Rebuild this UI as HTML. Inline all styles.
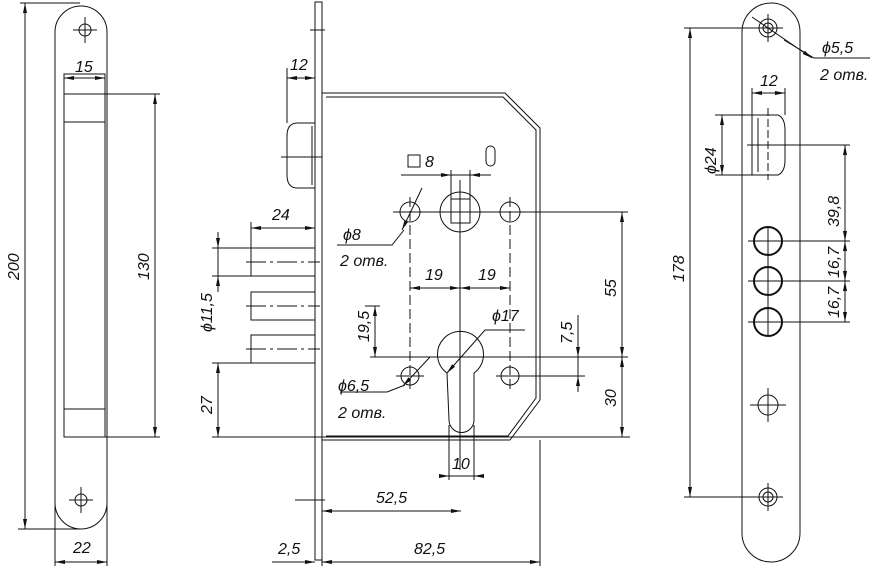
<!DOCTYPE html>
<html><head><meta charset="utf-8"><style>
html,body{margin:0;padding:0;background:#fff;width:879px;height:568px;overflow:hidden}
svg text{font-family:"Liberation Sans",sans-serif;font-style:italic;font-size:16px;fill:#111}
</style></head><body>
<svg width="879" height="568" viewBox="0 0 879 568" xmlns="http://www.w3.org/2000/svg">
<defs>
<marker id="a" viewBox="0 0 10 4" refX="10" refY="2" markerWidth="10" markerHeight="4" orient="auto-start-reverse" markerUnits="userSpaceOnUse"><path d="M0,0L10,2L0,4z" fill="#111"/></marker>
</defs>
<g stroke="#111" stroke-width="1" fill="none">
<!-- LEFT PLATE -->
<path d="M55,32 A26,26 0 0 1 107,32 L107,503 A26,26 0 0 1 55,503 Z"/>
<rect x="64" y="74" width="41" height="363"/>
<line x1="64" y1="122" x2="105" y2="122"/>
<line x1="64" y1="409" x2="105" y2="409"/>
<circle cx="85" cy="30" r="6"/><line x1="73" y1="30" x2="97" y2="30"/><line x1="85" y1="17" x2="85" y2="43"/>
<circle cx="81" cy="500" r="6"/><line x1="69" y1="500" x2="93" y2="500"/><line x1="81" y1="487" x2="81" y2="513"/>
<line x1="25" y1="3" x2="25" y2="529" marker-start="url(#a)" marker-end="url(#a)"/>
<line x1="20" y1="3" x2="80" y2="3"/><line x1="18" y1="529" x2="80" y2="529"/>
<line x1="64" y1="78" x2="105" y2="78" marker-start="url(#a)" marker-end="url(#a)"/>
<line x1="64" y1="94" x2="160" y2="94"/><line x1="105" y1="437" x2="160" y2="437"/>
<line x1="155" y1="94" x2="155" y2="437" marker-start="url(#a)" marker-end="url(#a)"/>
<line x1="55" y1="505" x2="55" y2="566"/><line x1="107" y1="505" x2="107" y2="566"/>
<line x1="55" y1="562" x2="107" y2="562" marker-start="url(#a)" marker-end="url(#a)"/>
<!-- MIDDLE -->
<rect x="315" y="2" width="7" height="558"/>
<line x1="310" y1="30" x2="325" y2="30"/><line x1="295" y1="500" x2="325" y2="500"/>
<path d="M322,93 L505,93 L540,128 L540,400 L510,440 L322,440"/>
<path d="M326,97 L503,97 L536,130 L536,398 L508,436 L326,436"/>
<path d="M315,123 L296,123 Q287,124 287,136 L287,175 Q287,187 296,188 L315,188"/>
<line x1="312" y1="126" x2="312" y2="185"/>
<line x1="281" y1="157" x2="322" y2="157"/>
<rect x="251" y="248" width="64" height="28"/><rect x="251" y="292" width="64" height="28"/><rect x="251" y="335" width="64" height="28"/>
<g stroke-dasharray="20,4,3,4"><line x1="246" y1="262" x2="320" y2="262"/><line x1="246" y1="306" x2="320" y2="306"/><line x1="246" y1="349" x2="320" y2="349"/></g>
<!-- holes -->
<circle cx="410" cy="212" r="10"/><circle cx="510" cy="212" r="10"/>
<circle cx="460" cy="212" r="20"/><rect x="451" y="199" width="19" height="24"/>
<line x1="393" y1="212" x2="628" y2="212"/>
<line x1="460" y1="180" x2="460" y2="470"/>
<g stroke-dasharray="10,4"><line x1="410" y1="197" x2="410" y2="390"/><line x1="510" y1="197" x2="510" y2="390"/></g>
<rect x="486" y="146" width="9" height="20" rx="4.5"/>
<path d="M447,373 A23,23 0 1 1 474,373 L474,420 A12.5,12.5 0 0 1 449,420 Z"/>
<circle cx="410" cy="376" r="9"/><circle cx="510" cy="376" r="9"/>
<line x1="396" y1="376" x2="424" y2="376"/><line x1="496" y1="376" x2="585" y2="376"/>
<!-- dims mid -->
<line x1="287" y1="68" x2="287" y2="123"/>
<line x1="287" y1="78" x2="315" y2="78" marker-start="url(#a)" marker-end="url(#a)"/>
<line x1="251" y1="222" x2="251" y2="248"/>
<line x1="251" y1="228" x2="315" y2="228" marker-start="url(#a)" marker-end="url(#a)"/>
<line x1="212" y1="248" x2="251" y2="248"/><line x1="212" y1="276" x2="251" y2="276"/>
<line x1="218" y1="232" x2="218" y2="248" marker-end="url(#a)"/><line x1="218" y1="292" x2="218" y2="276" marker-end="url(#a)"/><line x1="218" y1="248" x2="218" y2="276"/>
<line x1="212" y1="363" x2="251" y2="363"/><line x1="212" y1="437" x2="630" y2="437"/>
<line x1="218" y1="363" x2="218" y2="437" marker-start="url(#a)" marker-end="url(#a)"/>
<line x1="365" y1="306" x2="380" y2="306"/><line x1="370" y1="357" x2="628" y2="357"/>
<line x1="375" y1="306" x2="375" y2="357" marker-start="url(#a)" marker-end="url(#a)"/>
<line x1="410" y1="288" x2="460" y2="288" marker-start="url(#a)" marker-end="url(#a)"/>
<line x1="460" y1="288" x2="510" y2="288" marker-start="url(#a)" marker-end="url(#a)"/>
<line x1="622" y1="212" x2="622" y2="357" marker-start="url(#a)" marker-end="url(#a)"/>
<line x1="622" y1="357" x2="622" y2="437" marker-start="url(#a)" marker-end="url(#a)"/>
<line x1="578" y1="315" x2="578" y2="357" marker-end="url(#a)"/><line x1="578" y1="392" x2="578" y2="376" marker-end="url(#a)"/><line x1="578" y1="357" x2="578" y2="376"/>
<line x1="401" y1="175" x2="491" y2="175"/>
<line x1="422" y1="175" x2="451" y2="175" marker-end="url(#a)"/><line x1="489" y1="175" x2="470" y2="175" marker-end="url(#a)"/>
<line x1="451" y1="170" x2="451" y2="199"/><line x1="470" y1="170" x2="470" y2="199"/>
<path d="M337,245 L392,245 L404,230"/><line x1="402" y1="230" x2="422" y2="188" marker-start="url(#a)"/>
<path d="M340,392 L387,392 L405,385"/><line x1="403" y1="386" x2="430" y2="357" marker-start="url(#a)"/>
<path d="M525,330 L485,330 L447,373" marker-end="url(#a)"/>
<line x1="449" y1="425" x2="449" y2="480"/><line x1="474" y1="425" x2="474" y2="480"/>
<line x1="440" y1="476" x2="449" y2="476" marker-end="url(#a)"/><line x1="484" y1="476" x2="474" y2="476" marker-end="url(#a)"/><line x1="449" y1="476" x2="474" y2="476"/>
<line x1="322" y1="440" x2="322" y2="566"/><line x1="540" y1="440" x2="540" y2="566"/>
<line x1="322" y1="511" x2="461" y2="511" marker-start="url(#a)" marker-end="url(#a)"/>
<line x1="272" y1="562" x2="315" y2="562" marker-end="url(#a)"/><line x1="322" y1="562" x2="540" y2="562" marker-start="url(#a)" marker-end="url(#a)"/>
<!-- RIGHT PLATE -->
<path d="M742,32 A29,29 0 0 1 800,32 L800,533 A29,29 0 0 1 742,533 Z"/>
<circle cx="768" cy="28" r="9"/><circle cx="768" cy="28" r="5"/><line x1="753" y1="28" x2="783" y2="28"/><line x1="768" y1="14" x2="768" y2="42"/>
<circle cx="768" cy="497" r="9"/><circle cx="768" cy="497" r="5"/><line x1="753" y1="497" x2="783" y2="497"/><line x1="768" y1="483" x2="768" y2="511"/>
<path d="M752,115 L778,115 Q785,118 785,130 L785,160 Q785,172 778,175 L752,175 Z"/><line x1="758" y1="118" x2="758" y2="172"/>
<line x1="768" y1="108" x2="768" y2="180" stroke-dasharray="8,3"/>
<line x1="752" y1="88" x2="752" y2="115"/><line x1="785" y1="88" x2="785" y2="115"/>
<line x1="752" y1="93" x2="785" y2="93" marker-start="url(#a)" marker-end="url(#a)"/>
<line x1="715" y1="115" x2="770" y2="115"/><line x1="715" y1="175" x2="770" y2="175"/>
<line x1="722" y1="115" x2="722" y2="175" marker-start="url(#a)" marker-end="url(#a)"/>
<g stroke-width="2"><circle cx="768" cy="241" r="14"/><circle cx="768" cy="281" r="14"/><circle cx="768" cy="322" r="14"/></g>
<line x1="748" y1="241" x2="850" y2="241"/><line x1="748" y1="281" x2="850" y2="281"/><line x1="748" y1="322" x2="850" y2="322"/>
<line x1="747" y1="145" x2="850" y2="145"/>
<line x1="845" y1="145" x2="845" y2="241" marker-start="url(#a)" marker-end="url(#a)"/>
<line x1="845" y1="241" x2="845" y2="281" marker-start="url(#a)" marker-end="url(#a)"/>
<line x1="845" y1="281" x2="845" y2="322" marker-start="url(#a)" marker-end="url(#a)"/>
<line x1="768" y1="226" x2="768" y2="337"/>
<circle cx="768" cy="405" r="10"/><line x1="750" y1="405" x2="786" y2="405"/><line x1="768" y1="388" x2="768" y2="422"/>
<line x1="684" y1="28" x2="755" y2="28"/><line x1="684" y1="497" x2="755" y2="497"/>
<line x1="690" y1="28" x2="690" y2="497" marker-start="url(#a)" marker-end="url(#a)"/>
<line x1="752" y1="17" x2="812" y2="58" marker-end="url(#a)"/><path d="M784,40 L814,58 L870,58"/>
</g>
<g>
<text x="75" y="72">15</text>
<text x="73" y="553">22</text>
<text transform="translate(19,280) rotate(-90)">200</text>
<text transform="translate(149,280) rotate(-90)">130</text>
<text x="290" y="70">12</text>
<text x="272" y="220">24</text>
<text transform="translate(212,332) rotate(-90)">ϕ11,5</text>
<text transform="translate(212,414) rotate(-90)">27</text>
<text transform="translate(369,342) rotate(-90)">19,5</text>
<text transform="translate(616,297) rotate(-90)">55</text>
<text transform="translate(616,407) rotate(-90)">30</text>
<text transform="translate(572,344) rotate(-90)">7,5</text>
<text x="425" y="280">19</text><text x="478" y="280">19</text>
<text x="343" y="240">ϕ8</text><text x="340" y="266">2 отв.</text>
<text x="338" y="391">ϕ6,5</text><text x="338" y="418">2 отв.</text>
<text x="492" y="321">ϕ17</text>
<text x="452" y="469">10</text>
<text x="376" y="503">52,5</text>
<text x="278" y="554">2,5</text>
<text x="414" y="554">82,5</text>
<text x="425" y="167">8</text>
<text x="760" y="86">12</text>
<text transform="translate(716,174) rotate(-90)">ϕ24</text>
<text transform="translate(684,282) rotate(-90)">178</text>
<text transform="translate(839,227) rotate(-90)">39,8</text>
<text transform="translate(839,278) rotate(-90)">16,7</text>
<text transform="translate(839,318) rotate(-90)">16,7</text>
<text x="822" y="53">ϕ5,5</text><text x="820" y="80">2 отв.</text>
</g>
<rect x="408" y="155" width="12" height="12" fill="none" stroke="#111"/>
</svg>
</body></html>
